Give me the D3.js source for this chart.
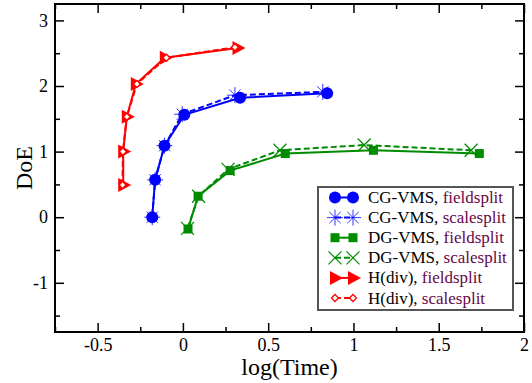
<!DOCTYPE html>
<html>
<head>
<meta charset="utf-8">
<script src="https://cdn.jsdelivr.net/npm/d3@7"></script>
<style>
  body { margin: 0; background: #fff; }
  text { font-family: "Liberation Serif", "DejaVu Serif", serif; }
</style>
</head>
<body>
<svg id="chart" width="532" height="383"></svg>
<script>
// data: [log(Time), DoE]
const cgField = [[-0.18, 0.0], [-0.163, 0.57], [-0.108, 1.09], [0.008, 1.56], [0.335, 1.82], [0.846, 1.89]];
const cgScale = [[-0.18, 0.0], [-0.163, 0.57], [-0.108, 1.09], [-0.004, 1.57], [0.305, 1.86], [0.82, 1.91]];
const dgField = [[0.03, -0.18], [0.089, 0.32], [0.277, 0.71], [0.6, 0.97], [1.117, 1.02], [1.738, 0.97]];
const dgScale = [[0.027, -0.17], [0.092, 0.32], [0.265, 0.73], [0.569, 1.02], [1.063, 1.1], [1.69, 1.02]];
const hdField = [[-0.35, 0.49], [-0.35, 1.0], [-0.329, 1.53], [-0.276, 2.03], [-0.106, 2.43], [0.32, 2.58]];
const hdScale = [[-0.354, 0.49], [-0.352, 1.0], [-0.329, 1.53], [-0.27, 2.03], [-0.097, 2.43], [0.305, 2.59]];

const xTicks = [-0.5, 0, 0.5, 1, 1.5, 2];
const yTicks = [-1, 0, 1, 2, 3];
const xMinor = [-0.75, -0.25, 0.25, 0.75, 1.25, 1.75];
const yMinor = [-1.5, -0.5, 0.5, 1.5, 2.5];

const series = [
  { name: "CG-VMS", solver: "fieldsplit", data: cgField, color: "#0000ff", dash: null, marker: "circle" },
  { name: "CG-VMS", solver: "scalesplit", data: cgScale, color: "#0000ff", dash: "6,3", marker: "star" },
  { name: "DG-VMS", solver: "fieldsplit", data: dgField, color: "#008b00", dash: null, marker: "square" },
  { name: "DG-VMS", solver: "scalesplit", data: dgScale, color: "#008b00", dash: "6,3", marker: "cross" },
  { name: "H(div)", solver: "fieldsplit", data: hdField, color: "#ff0000", dash: null, marker: "triangle" },
  { name: "H(div)", solver: "scalesplit", data: hdScale, color: "#ff0000", dash: "6,3", marker: "diamond" }
];

const FONT = "Liberation Serif, DejaVu Serif, serif";
const svg = d3.select("#chart");
const pLeft = 55, pRight = 524, pTop = 4, pBottom = 332;

const x = d3.scaleLinear().domain([-0.75, 2]).range([pLeft, pRight]);
const y = d3.scaleLinear().domain([-1.75, 3.25]).range([pBottom, pTop]);

// axes, ticks point inward on all sides
function styleAxis(g) {
  g.attr("font-family", FONT).attr("font-size", 18);
  g.select(".domain").remove();
  g.selectAll("line").attr("stroke", "#000").attr("stroke-width", 1.5);
  g.selectAll("text").attr("fill", "#000");
}

svg.append("g").attr("transform", `translate(0,${pBottom})`)
  .call(d3.axisBottom(x).tickValues(xTicks).tickSizeInner(-9).tickSizeOuter(0).tickPadding(6)
    .tickFormat(d => String(d)))
  .call(styleAxis);
svg.append("g").attr("transform", `translate(0,${pBottom})`)
  .call(d3.axisBottom(x).tickValues(xMinor).tickSizeInner(-5).tickSizeOuter(0).tickFormat(""))
  .call(styleAxis);
svg.append("g").attr("transform", `translate(0,${pTop})`)
  .call(d3.axisTop(x).tickValues(xTicks).tickSizeInner(-9).tickSizeOuter(0).tickFormat(""))
  .call(styleAxis);
svg.append("g").attr("transform", `translate(0,${pTop})`)
  .call(d3.axisTop(x).tickValues(xMinor).tickSizeInner(-5).tickSizeOuter(0).tickFormat(""))
  .call(styleAxis);

svg.append("g").attr("transform", `translate(${pLeft},0)`)
  .call(d3.axisLeft(y).tickValues(yTicks).tickSizeInner(-9).tickSizeOuter(0).tickPadding(7)
    .tickFormat(d => String(d)))
  .call(styleAxis);
svg.append("g").attr("transform", `translate(${pLeft},0)`)
  .call(d3.axisLeft(y).tickValues(yMinor).tickSizeInner(-5).tickSizeOuter(0).tickFormat(""))
  .call(styleAxis);
svg.append("g").attr("transform", `translate(${pRight},0)`)
  .call(d3.axisRight(y).tickValues(yTicks).tickSizeInner(-9).tickSizeOuter(0).tickFormat(""))
  .call(styleAxis);
svg.append("g").attr("transform", `translate(${pRight},0)`)
  .call(d3.axisRight(y).tickValues(yMinor).tickSizeInner(-5).tickSizeOuter(0).tickFormat(""))
  .call(styleAxis);

// frame
svg.append("rect")
  .attr("x", pLeft).attr("y", pTop)
  .attr("width", pRight - pLeft).attr("height", pBottom - pTop)
  .attr("fill", "none").attr("stroke", "#000").attr("stroke-width", 2);

// axis titles
svg.append("text")
  .attr("x", (pLeft + pRight) / 2).attr("y", 375)
  .attr("text-anchor", "middle").attr("font-size", 24).attr("font-family", FONT)
  .text("log(Time)");
svg.append("text")
  .attr("transform", `translate(32,${(pTop + pBottom) / 2}) rotate(-90)`)
  .attr("text-anchor", "middle").attr("font-size", 24).attr("font-family", FONT)
  .text("DoE");

// marker drawing
function drawMarker(g, type, color) {
  if (type === "circle") {
    g.append("circle").attr("r", 6).attr("fill", color);
  } else if (type === "star") {
    const r = 8;
    for (let a = 0; a < 4; a++) {
      const t = a * Math.PI / 4;
      g.append("line")
        .attr("x1", -r * Math.cos(t)).attr("y1", -r * Math.sin(t))
        .attr("x2", r * Math.cos(t)).attr("y2", r * Math.sin(t))
        .attr("stroke", color).attr("stroke-width", 1).attr("stroke-opacity", 0.8);
    }
  } else if (type === "square") {
    g.append("rect").attr("x", -4.5).attr("y", -4.5).attr("width", 9).attr("height", 9).attr("fill", color);
  } else if (type === "cross") {
    const r = 6.5;
    g.append("path").attr("d", `M${-r},${-r}L${r},${r}M${-r},${r}L${r},${-r}`)
      .attr("stroke", color).attr("stroke-width", 1.2).attr("fill", "none");
  } else if (type === "triangle") {
    g.append("path").attr("d", "M-5,-7L8,0L-5,7Z").attr("fill", color);
  } else if (type === "diamond") {
    g.append("path").attr("d", "M-3.5,0L0,-3.5L3.5,0L0,3.5Z")
      .attr("fill", "#fff").attr("stroke", color).attr("stroke-width", 1.3);
  }
}

const line = d3.line().x(d => x(d[0])).y(d => y(d[1]));

series.forEach(s => {
  const g = svg.append("g").attr("class", "series");
  g.append("path")
    .attr("d", line(s.data))
    .attr("fill", "none")
    .attr("stroke", s.color)
    .attr("stroke-width", 2)
    .attr("stroke-dasharray", s.dash);
  g.selectAll("g.pt")
    .data(s.data)
    .join("g")
    .attr("class", "pt")
    .attr("transform", d => `translate(${x(d[0])},${y(d[1])})`)
    .each(function () { drawMarker(d3.select(this), s.marker, s.color); });
});

// legend
const legend = svg.append("g").attr("transform", "translate(318,187)");
legend.append("rect")
  .attr("width", 195).attr("height", 123)
  .attr("fill", "#fff").attr("stroke", "#555").attr("stroke-width", 2);

series.forEach((s, i) => {
  const row = legend.append("g").attr("transform", `translate(0,${10.5 + i * 20.1})`);
  row.append("line")
    .attr("x1", 17).attr("x2", 35)
    .attr("stroke", s.color).attr("stroke-width", 2)
    .attr("stroke-dasharray", s.dash);
  drawMarker(row.append("g").attr("transform", "translate(17,0)"), s.marker, s.color);
  drawMarker(row.append("g").attr("transform", "translate(35,0)"), s.marker, s.color);
  const t = row.append("text").attr("x", 50).attr("y", 5.5)
    .attr("font-size", 17).attr("font-family", FONT);
  t.append("tspan").attr("fill", "#000").text(s.name + ", ");
  t.append("tspan").attr("fill", "#670748").text(s.solver);
});
</script>
</body>
</html>
